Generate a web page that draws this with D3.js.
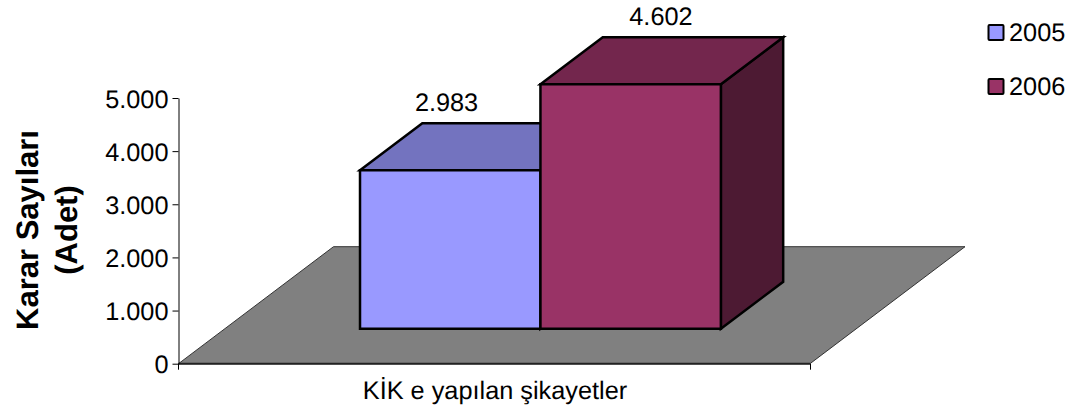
<!DOCTYPE html>
<html><head><meta charset="utf-8">
<script src="https://cdn.jsdelivr.net/npm/d3@7/dist/d3.min.js"></script>
<style>html,body{margin:0;padding:0;background:#fff}svg{display:block}text{font-family:"Liberation Sans",Arial,sans-serif;fill:#000;text-rendering:geometricPrecision}</style>
</head><body><svg id="c" width="1066" height="407"></svg>
<script>
const seriesNames = ["2005","2006"];
const seriesValues = [2983,4602];
const seriesColors = ["#9999ff","#993366"];
const topColors = ["#7373bf","#73264d"];
const sideColors = ["#4d4d80","#4d1a33"];
const yTicks = [0,1000,2000,3000,4000,5000];
const categoryLabel = "KİK e yapılan şikayetler";
const yTitle = ["Karar Sayıları","(Adet)"];

const FS=25.3;
const svg = d3.select("#c");
const fmt = d3.formatLocale({decimal:",",thousands:".",grouping:[3],currency:["",""]}).format(",d");
const y = d3.scaleLinear().domain([0,5000]).range([363.7,98]);
const x = d3.scaleBand().domain(seriesNames).range([178.5,810]).paddingInner(0).paddingOuter(0.75).align(0.5);
const depthX = d3.scaleLinear().domain([0,1]).range([0,155]);
const depthY = d3.scaleLinear().domain([0,1]).range([0,-117]);
const D0=0.298, D1=0.70;
const labelShift=[-65,-31];
const P=(px,py,d)=>[px+depthX(d),py+depthY(d)];
const line=d3.line();

// floor
svg.append("path").attr("d",line([P(178.5,y(0),0),P(810,y(0),0),P(810,y(0),1),P(178.5,y(0),1)])+"Z")
  .attr("fill","#808080").attr("stroke","#333").attr("stroke-width",1);
svg.append("line").attr("x1",178.5).attr("x2",810).attr("y1",y(0)).attr("y2",y(0)).attr("stroke","#222").attr("stroke-width",2);

// axes
const gy=svg.append("g").attr("transform","translate(178.5,0)")
  .call(d3.axisLeft(y).tickValues(yTicks).tickFormat(fmt).tickSize(6).tickSizeOuter(0).tickPadding(4));
gy.select(".domain").attr("stroke","#000");
gy.selectAll("text").attr("font-size",FS).attr("dy","0.36em");
svg.append("line").attr("x1",178.5).attr("x2",178.5).attr("y1",y(0)).attr("y2",y(0)+6).attr("stroke","#000");
svg.append("line").attr("x1",810.5).attr("x2",810.5).attr("y1",y(0)).attr("y2",y(0)+6).attr("stroke","#000");

// bars
const bars=svg.selectAll("g.bar").data(seriesNames.map((n,i)=>({n,i,v:seriesValues[i]}))).join("g").attr("class","bar")
  .attr("stroke","#000").attr("stroke-width",2.5).attr("stroke-linejoin","miter");
bars.each(function(d){
  const g=d3.select(this), x0=x(d.n), x1=x0+x.bandwidth(), b=y(0), t=y(d.v);
  g.append("path").attr("d",line([P(x1,b,D0),P(x1,b,D1),P(x1,t,D1),P(x1,t,D0)])+"Z").attr("fill",sideColors[d.i]);
  g.append("path").attr("d",line([P(x0,t,D0),P(x1,t,D0),P(x1,t,D1),P(x0,t,D1)])+"Z").attr("fill",topColors[d.i]);
  g.append("path").attr("d",line([P(x0,b,D0),P(x1,b,D0),P(x1,t,D0),P(x0,t,D0)])+"Z").attr("fill",seriesColors[d.i]);
  const m=P(x0+x.bandwidth()/2,t,D1);
  svg.append("text").attr("x",m[0]+labelShift[d.i]-1).attr("y",m[1]-12).attr("text-anchor","middle").attr("font-size",FS).text(fmt(d.v));
});

// category label
svg.append("text").attr("x",495).attr("y",399).attr("text-anchor","middle").attr("font-size",FS).text(categoryLabel);

// y title
const tt=svg.append("text").attr("transform","translate(37.7,230) rotate(-90)").attr("text-anchor","middle").attr("font-size",31).attr("font-weight","bold");
yTitle.forEach((s,i)=>tt.append("tspan").attr("x",0).attr("y",i*39.5).text(s));

// legend
const legend=svg.selectAll("g.leg").data(seriesNames).join("g").attr("class","leg");
legend.append("rect").attr("x",988.5).attr("y",(d,i)=>25+i*54).attr("width",15).attr("height",15).attr("rx",1).attr("fill",(d,i)=>seriesColors[i]).attr("stroke","#000").attr("stroke-width",2);
legend.append("text").attr("x",1009).attr("y",(d,i)=>41+i*54).attr("font-size",FS).text(d=>d);
</script></body></html>
